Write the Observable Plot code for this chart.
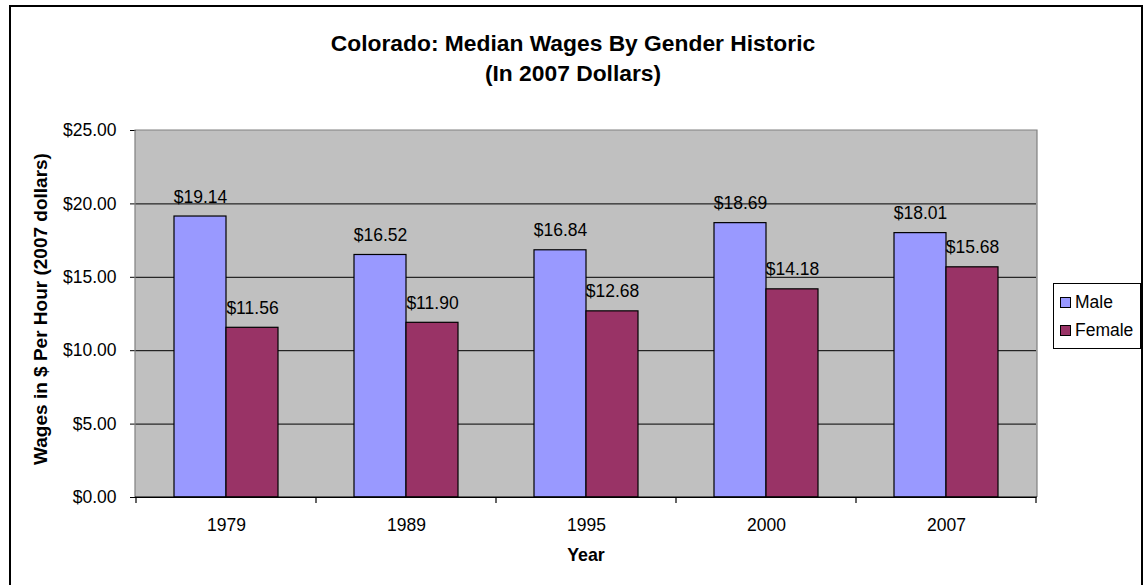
<!DOCTYPE html>
<html>
<head>
<meta charset="utf-8">
<script src="https://cdn.jsdelivr.net/npm/d3@7"></script>
<script src="https://cdn.jsdelivr.net/npm/@observablehq/plot@0.6"></script>
<style>
  html, body { margin: 0; padding: 0; background: #fff; }
  #page { position: relative; width: 1146px; height: 585px; overflow: hidden; font-family: "Liberation Sans", Arial, sans-serif; color: #000; }
  #border { position: absolute; left: 9px; top: 5px; width: 1134px; height: 600px; border: 2px solid #000; border-bottom: none; box-sizing: border-box; }
  #chart { position: absolute; left: 0; top: 0; }
  .title { position: absolute; left: 0; width: 1146px; text-align: center; font-weight: bold; font-size: 22.8px; line-height: 30px; white-space: nowrap; }
  .ylabel { position: absolute; left: 41px; top: 309px; transform: translate(-50%, -50%) rotate(-90deg); font-weight: bold; font-size: 19px; white-space: nowrap; line-height: 22px; }
  .xlabel { position: absolute; left: 586px; top: 544px; transform: translateX(-50%); font-weight: bold; font-size: 17.8px; white-space: nowrap; line-height: 22px; }
  #legend { position: absolute; left: 1053px; top: 283px; width: 88px; border: 1px solid #000; box-sizing: border-box; background: #fff; padding: 4px 0 4px 6px; }
  .item { display: flex; align-items: center; height: 28px; font-size: 17.5px; }
  .sw { width: 11px; height: 11px; border: 1px solid #000; box-sizing: border-box; margin-right: 4px; }
</style>
</head>
<body>
<div id="page">
  <div id="border"></div>
  <div id="chart"></div>
  <div class="title" id="t1" style="top:28px"></div>
  <div class="title" id="t2" style="top:58px"></div>
  <div class="ylabel" id="yl"></div>
  <div class="xlabel" id="xl"></div>
  <div id="legend"></div>
</div>
<script>
const titleLines = ["Colorado: Median Wages By Gender Historic", "(In 2007 Dollars)"];
const yLabel = "Wages in $ Per Hour (2007 dollars)";
const xLabel = "Year";
const years = ["1979", "1989", "1995", "2000", "2007"];
const genders = ["Male", "Female"];
const maleWages = [19.14, 16.52, 16.84, 18.69, 18.01];
const femaleWages = [11.56, 11.90, 12.68, 14.18, 15.68];
const yTicks = [0, 5, 10, 15, 20, 25];
const colors = ["#9999FF", "#993366"];

const fmt = v => "$" + v.toFixed(2);
const data = years.flatMap((yr, i) => [
  {year: yr, gender: genders[0], value: maleWages[i]},
  {year: yr, gender: genders[1], value: femaleWages[i]}
]);

const FS = 17.5;
const plot = Plot.plot({
  width: 1146,
  height: 585,
  marginLeft: 135,
  marginRight: 109,
  marginTop: 130,
  marginBottom: 88,
  style: {fontFamily: "'Liberation Sans', Arial, sans-serif", fontSize: FS + "px", background: "transparent", color: "#000", overflow: "visible"},
  fx: {domain: years, padding: 0, label: null},
  x: {domain: genders, paddingInner: 0, paddingOuter: 0.73, axis: null},
  y: {domain: [yTicks[0], yTicks[yTicks.length - 1]], label: null},
  color: {domain: genders, range: colors},
  marks: [
    Plot.gridY(yTicks.slice(1, -1), {stroke: "#000", strokeOpacity: 1, strokeWidth: 1}),
    Plot.barY(data, {fx: "year", x: "gender", y: "value", fill: "gender", stroke: "#000", strokeWidth: 1.2}),
    Plot.text(data, {fx: "year", x: "gender", y: "value", text: d => fmt(d.value), lineAnchor: "bottom", dy: -14, fontSize: FS, fill: "#000"}),
    Plot.ruleY([0], {stroke: "#000", strokeWidth: 1.2}),
    Plot.axisY(yTicks, {tickFormat: fmt, tickSize: 6, tickPadding: 14, fontSize: FS, label: null}),
    Plot.axisFx({anchor: "bottom", tickSize: 0, tickPadding: 21, fontSize: FS, label: null})
  ]
});
document.getElementById("chart").appendChild(plot);

// plot-area background, border and category boundary ticks, positioned from the plot's own scales
const fx = plot.scale("fx");
const ys = plot.scale("y");
const svg = d3.select(plot);
const x0 = fx.range[0], x1 = fx.range[1];
const yTop = ys.apply(yTicks[yTicks.length - 1]), yBot = ys.apply(0);
svg.insert("rect", ":first-child")
  .attr("x", x0).attr("y", yTop).attr("width", x1 - x0).attr("height", yBot - yTop)
  .attr("fill", "#C0C0C0");
svg.append("path")
  .attr("d", `M${x0},${yBot}V${yTop}H${x1}V${yBot}`)
  .attr("fill", "none").attr("stroke", "#808080").attr("stroke-width", 1.2);
svg.append("line")
  .attr("x1", x0).attr("x2", x1).attr("y1", yBot).attr("y2", yBot)
  .attr("stroke", "#000").attr("stroke-width", 1.2);
const bounds = years.map(y => fx.apply(y)).concat([fx.apply(years[years.length - 1]) + fx.bandwidth]);
svg.append("g").selectAll("line").data(bounds).join("line")
  .attr("x1", d => d).attr("x2", d => d).attr("y1", yBot).attr("y2", yBot + 6)
  .attr("stroke", "#000").attr("stroke-width", 1.2);

document.getElementById("t1").textContent = titleLines[0];
document.getElementById("t2").textContent = titleLines[1];
document.getElementById("yl").textContent = yLabel;
document.getElementById("xl").textContent = xLabel;
const legend = document.getElementById("legend");
genders.forEach((g, i) => {
  const item = document.createElement("div");
  item.className = "item";
  const sw = document.createElement("div");
  sw.className = "sw";
  sw.style.background = colors[i];
  const lab = document.createElement("span");
  lab.textContent = g;
  item.appendChild(sw);
  item.appendChild(lab);
  legend.appendChild(item);
});
</script>
</body>
</html>
